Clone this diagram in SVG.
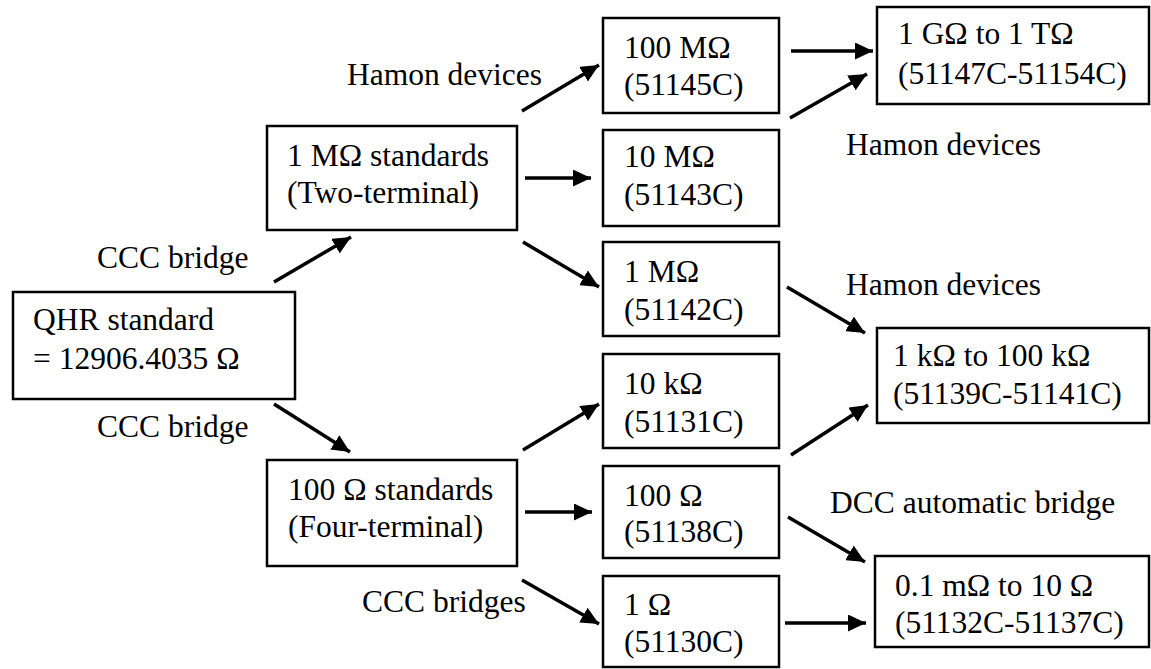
<svg xmlns="http://www.w3.org/2000/svg" width="1151" height="669" viewBox="0 0 1151 669">
<style>
.box{fill:#fff;stroke:#000;stroke-width:2.5}
text{font-family:"Liberation Serif","Times New Roman",Tinos,"Nimbus Roman","Nimbus Roman No9 L",FreeSerif,Times,"DejaVu Serif","Noto Serif",serif;font-size:31.5px;fill:#000}
.arr{stroke:#000;stroke-width:3.5;fill:none;marker-end:url(#ah)}
</style>
<defs>
<marker id="ah" markerUnits="userSpaceOnUse" markerWidth="19" markerHeight="17" refX="18" refY="8.5" orient="auto">
<path d="M0,0 L18,8.5 L0,17 Z" fill="#000"/>
</marker>
</defs>
<rect width="1151" height="669" fill="#fff"/>
<g id="qhr"><rect class="box" x="13" y="292" width="282" height="107"/><text x="33" y="330">QHR standard</text><text x="33" y="369">= 12906.4035 Ω</text></g>
<g id="m1std"><rect class="box" x="267" y="126" width="250" height="104"/><text x="287" y="166">1 MΩ standards</text><text x="287" y="203">(Two-terminal)</text></g>
<g id="o100std"><rect class="box" x="267" y="460" width="250" height="106"/><text x="288" y="500">100 Ω standards</text><text x="288" y="537">(Four-terminal)</text></g>
<g id="m100"><rect class="box" x="603" y="18" width="176" height="95"/><text x="624" y="58">100 MΩ</text><text x="624" y="95">(51145C)</text></g>
<g id="m10"><rect class="box" x="603" y="130" width="176" height="96"/><text x="624" y="167">10 MΩ</text><text x="624" y="205">(51143C)</text></g>
<g id="m1"><rect class="box" x="603" y="242" width="176" height="94"/><text x="624" y="282">1 MΩ</text><text x="624" y="320">(51142C)</text></g>
<g id="k10"><rect class="box" x="603" y="354" width="176" height="94"/><text x="624" y="394">10 kΩ</text><text x="624" y="432">(51131C)</text></g>
<g id="o100"><rect class="box" x="603" y="466" width="176" height="92"/><text x="624" y="506">100 Ω</text><text x="624" y="542">(51138C)</text></g>
<g id="o1"><rect class="box" x="603" y="576" width="176" height="91"/><text x="624" y="615">1 Ω</text><text x="624" y="652">(51130C)</text></g>
<g id="g1"><rect class="box" x="877" y="7" width="272" height="97"/><text x="898" y="44">1 GΩ to 1 TΩ</text><text x="898" y="84">(51147C-51154C)</text></g>
<g id="k1"><rect class="box" x="877" y="328" width="272" height="95"/><text x="893" y="366">1 kΩ to 100 kΩ</text><text x="893" y="404">(51139C-51141C)</text></g>
<g id="mo"><rect class="box" x="875" y="556" width="274" height="91"/><text x="895" y="596">0.1 mΩ to 10 Ω</text><text x="895" y="633">(51132C-51137C)</text></g>
<g id="labels">
<text x="347" y="85">Hamon devices</text>
<text x="846" y="155">Hamon devices</text>
<text x="97" y="268">CCC bridge</text>
<text x="846" y="295">Hamon devices</text>
<text x="97" y="437">CCC bridge</text>
<text x="830" y="513">DCC automatic bridge</text>
<text x="362" y="612">CCC bridges</text>
</g>
<g id="connectors">
<line class="arr" x1="274" y1="282" x2="351" y2="237"/>
<line class="arr" x1="274" y1="404" x2="350" y2="452"/>
<line class="arr" x1="522" y1="111" x2="599" y2="65"/>
<line class="arr" x1="525" y1="178" x2="591" y2="178"/>
<line class="arr" x1="523" y1="242" x2="599" y2="287"/>
<line class="arr" x1="523" y1="450" x2="599" y2="404"/>
<line class="arr" x1="525" y1="512" x2="592" y2="512"/>
<line class="arr" x1="522" y1="580" x2="599" y2="624"/>
<line class="arr" x1="791" y1="51" x2="873" y2="51"/>
<line class="arr" x1="790" y1="118" x2="867" y2="74"/>
<line class="arr" x1="787" y1="287" x2="865" y2="333"/>
<line class="arr" x1="791" y1="455" x2="868" y2="405"/>
<line class="arr" x1="788" y1="517" x2="865" y2="562"/>
<line class="arr" x1="785" y1="623" x2="866" y2="623"/>
</g>
</svg>
